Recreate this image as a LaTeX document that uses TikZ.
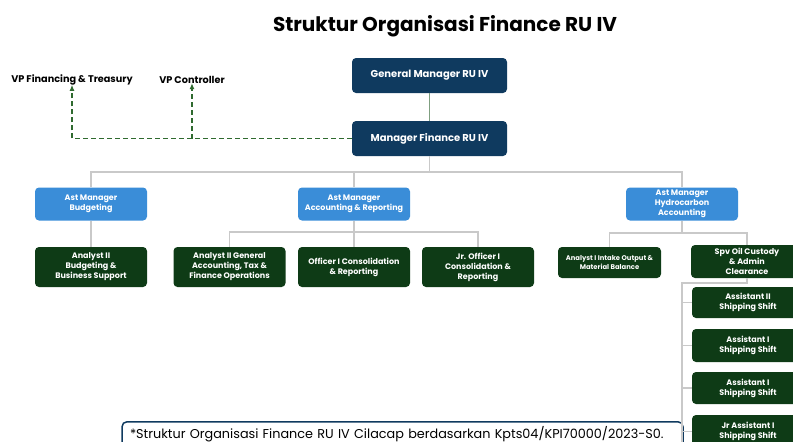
\documentclass[tikz,border=0pt]{standalone}
\usepackage{fontspec}
\setmainfont{Poppins}
\usetikzlibrary{arrows.meta}

\definecolor{navy}{HTML}{0F3A5F}
\definecolor{astblue}{HTML}{3A8DD8}
\definecolor{staffgreen}{HTML}{0E3B16}
\definecolor{linegray}{HTML}{C9C9C9}
\definecolor{gmgreen}{HTML}{7F9F80}
\definecolor{vpgreen}{HTML}{2F6A2F}

\tikzset{
    box/.style={rounded corners=4pt, text=white, align=center, inner sep=1pt,
        font=\bfseries\fontsize{8}{10}\selectfont},
    mgrbox/.style={box, fill=navy, minimum width=155, minimum height=35,
        font=\bfseries\fontsize{10}{12}\selectfont},
    astbox/.style={box, fill=astblue, minimum width=112, minimum height=33},
    staffbox/.style={box, fill=staffgreen, minimum width=112, minimum height=40},
    conn/.style={linegray, line width=1.3pt},
    vpline/.style={vpgreen, dash pattern=on 5pt off 3pt, line width=1.6pt,
        -{Latex[length=6pt,width=5pt]}}
}

\begin{document}
\begin{tikzpicture}[x=1pt,y=-1pt]
    \useasboundingbox (0,0) rectangle (793,442);
    \clip (0,0) rectangle (793,442);

    \node[font=\bfseries\fontsize{20}{24}\selectfont] (title) at (445,26) {Struktur Organisasi Finance RU IV};

    \node[mgrbox] (gm) at (429.5,75.5) {General Manager RU IV};
    \node[mgrbox] (mgr) at (429.5,138.5) {Manager Finance RU IV};

    \node[font=\bfseries\fontsize{9.7}{11}\selectfont] (vpft) at (72,80) {VP Financing \& Treasury};
    \node[font=\bfseries\fontsize{9.7}{11}\selectfont] (vpc) at (192,80) {VP Controller};

    \node[astbox] (astbud) at (91,204) {Ast Manager\\Budgeting};
    \node[astbox] (astacc) at (354,204) {Ast Manager\\Accounting \& Reporting};
    \node[astbox] (asthyd) at (682,204) {Ast Manager\\Hydrocarbon\\Accounting};

    \node[staffbox] (anbud) at (91,267) {Analyst II\\Budgeting \&\\Business Support};
    \node[staffbox] (angen) at (229.5,267) {Analyst II General\\Accounting, Tax \&\\Finance Operations};
    \node[staffbox] (offcons) at (354,267) {Officer I Consolidation\\\& Reporting};
    \node[staffbox] (jroff) at (478,267) {Jr. Officer I\\Consolidation \&\\Reporting};
    \node[staffbox, minimum width=103, minimum height=31,
        font=\bfseries\fontsize{6.8}{9}\selectfont] (anint) at (609.5,262.5) {Analyst I Intake Output \&\\Material Balance};
    \node[staffbox, minimum height=33] (spv) at (747,261.5) {Spv Oil Custody\\\& Admin\\Clearance};

    \node[staffbox, minimum height=31] (asst2) at (748,302.5) {Assistant II\\Shipping Shift};
    \node[staffbox, minimum height=33] (asst1a) at (748,345.5) {Assistant I\\Shipping Shift};
    \node[staffbox, minimum height=32] (asst1b) at (748,388) {Assistant I\\Shipping Shift};
    \node[staffbox, minimum height=33] (jrasst) at (748,431.5) {Jr Assistant I\\Shipping Shift};

    \node[draw=navy, line width=1.5pt, rounded corners=5pt, anchor=north,
        inner xsep=8pt, inner ysep=5pt, text width=545, align=left,
        font=\fontsize{12.8}{15}\selectfont] (note) at (402.5,421)
        {*Struktur Organisasi Finance RU IV Cilacap berdasarkan Kpts04/KPI70000/2023-S0.};

    \coordinate (topbus) at (429.5,172);
    \coordinate (accbus) at (354,232);
    \coordinate (hydbus) at (682,233);
    \coordinate (spvbus) at (682,283);

    \draw[gmgreen, line width=1.5pt] (gm) -- (mgr);
    \draw[conn] (mgr.south) -- (topbus);
    \draw[conn] (astbud.north) |- (topbus) -| (asthyd.north);
    \draw[conn] (topbus) -| (astacc.north);

    \draw[conn] (astbud) -- (anbud);
    \draw[conn] (astacc) -- (offcons);
    \draw[conn] (angen.north) |- (accbus) -| (jroff.north);
    \draw[conn] (asthyd.south) -- (hydbus);
    \draw[conn] (anint.north) |- (hydbus) -| (spv.north);
    \draw[conn] (spv.south) |- (spvbus) -- (spvbus |- 0,450);
    \foreach \n in {asst2,asst1a,asst1b,jrasst}
        \draw[conn] (spvbus) |- (\n.west);

    \draw[vpline] (mgr.west) -| ([yshift=4pt]vpft.south);
    \draw[vpline] (vpc.south |- mgr.west) -- ([yshift=4pt]vpc.south);
\end{tikzpicture}
\end{document}
